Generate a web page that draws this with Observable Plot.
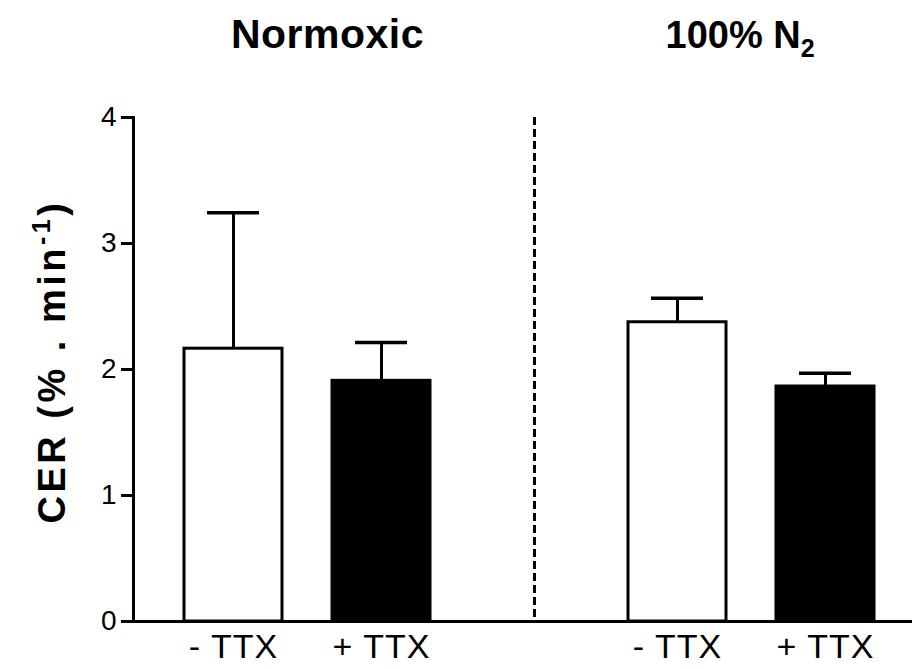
<!DOCTYPE html>
<html><head><meta charset="utf-8">
<script src="https://cdn.jsdelivr.net/npm/d3@7"></script>
<script src="https://cdn.jsdelivr.net/npm/@observablehq/plot@0.6"></script>
<style>body{margin:0;background:#fff}</style>
</head><body><div id="chart"></div>
<script>
// x slots (the middle slot is the gap that holds the dashed divider)
const slots = ["N-", "N+", "gap", "H-", "H+"];
const slotLabels = ["- TTX", "+ TTX", "", "- TTX", "+ TTX"];
// bars
const barSlots = ["N-", "N+", "H-", "H+"];
const conditions = ["Normoxic", "Normoxic", "100% N2", "100% N2"];
const treatments = ["- TTX", "+ TTX", "- TTX", "+ TTX"];
const means = [2.165, 1.91, 2.375, 1.865];
const errors = [1.08, 0.305, 0.19, 0.105];
const fills = ["white", "black", "white", "black"];
// axis
const yTicks = [0, 1, 2, 3, 4];
const yLabel = "CER (% . min-1)";
// group titles
const titles = ["Normoxic", "100% N2"];
const titleSlots = ["N-", "H-"];

const data = barSlots.map((s, i) => ({slot: s, condition: conditions[i], treatment: treatments[i], mean: means[i], err: errors[i], fill: fills[i]}));
const labelOf = new Map(slots.map((s, i) => [s, slotLabels[i]]));

const chart = Plot.plot({
  width: 914,
  height: 669,
  marginLeft: 133,
  marginRight: 2,
  marginTop: 117,
  marginBottom: 48,
  style: {fontFamily: "'Liberation Sans', Arial, sans-serif", color: "black", background: "white"},
  x: {domain: slots, range: [133, 925], padding: 0.335, label: null},
  y: {domain: [0, 4], label: null},
  marks: [
    Plot.ruleX(["gap"], {x: d => d, stroke: "black", strokeWidth: 3, strokeDasharray: "8,4", dx: 5}),
    Plot.ruleX(data, {x: "slot", y1: "mean", y2: d => d.mean + d.err, stroke: "black", strokeWidth: 3}),
    Plot.tickY(data, {x: "slot", y: d => d.mean + d.err, stroke: "black", strokeWidth: 3.5, inset: 23}),
    Plot.barY(data, {x: "slot", y: "mean", fill: "fill", stroke: "black", strokeWidth: 3}),
    Plot.ruleY([0], {stroke: "black", strokeWidth: 3}),
    Plot.frame({anchor: "left", stroke: "black", strokeWidth: 3}),
    Plot.axisY({ticks: yTicks, tickSize: 12, tickPadding: 5, fontSize: 28, strokeWidth: 3, label: null, tickFormat: d => String(d)}),
    Plot.axisX({tickSize: 0, tickPadding: 12, fontSize: 34, label: null, tickFormat: d => labelOf.get(d)}),
    Plot.text([yLabel], {text: d => d, frameAnchor: "left", textAnchor: "middle", rotate: -90, dx: -81, dy: -8, fontSize: 38, fontWeight: "bold"}),
    Plot.text(titles.slice(0, 1), {x: () => titleSlots[0], text: d => d, frameAnchor: "top", lineAnchor: "bottom", textAnchor: "middle", dy: -70, dx: 94, fontSize: 41, fontWeight: "bold"}),
    Plot.text(titles.slice(1), {x: () => titleSlots[1], text: d => d, frameAnchor: "top", lineAnchor: "bottom", textAnchor: "start", dy: -70, dx: -12, fontSize: 38, fontWeight: "bold"})
  ]
});
document.getElementById("chart").appendChild(chart);

const svg = d3.select(chart);
svg.selectAll("text").each(function() {
  const t = d3.select(this);
  const s = this.textContent;
  if (s === "- TTX" || s === "+ TTX") {
    t.style("letter-spacing", "1px");
  } else if (s === "Normoxic") {
    t.style("letter-spacing", "0.5px");
  } else if (s === "100% N2") {
    t.text("100% N");
    t.append("tspan").attr("font-size", 25).attr("dy", 9).text("2");
  } else if (s === yLabel) {
    t.style("letter-spacing", "3.5px");
    t.text("CER (% . min");
    t.append("tspan").attr("font-size", 25).attr("dy", -15).text("-1");
    t.append("tspan").attr("dy", 15).text(")");
  }
});
</script></body></html>
